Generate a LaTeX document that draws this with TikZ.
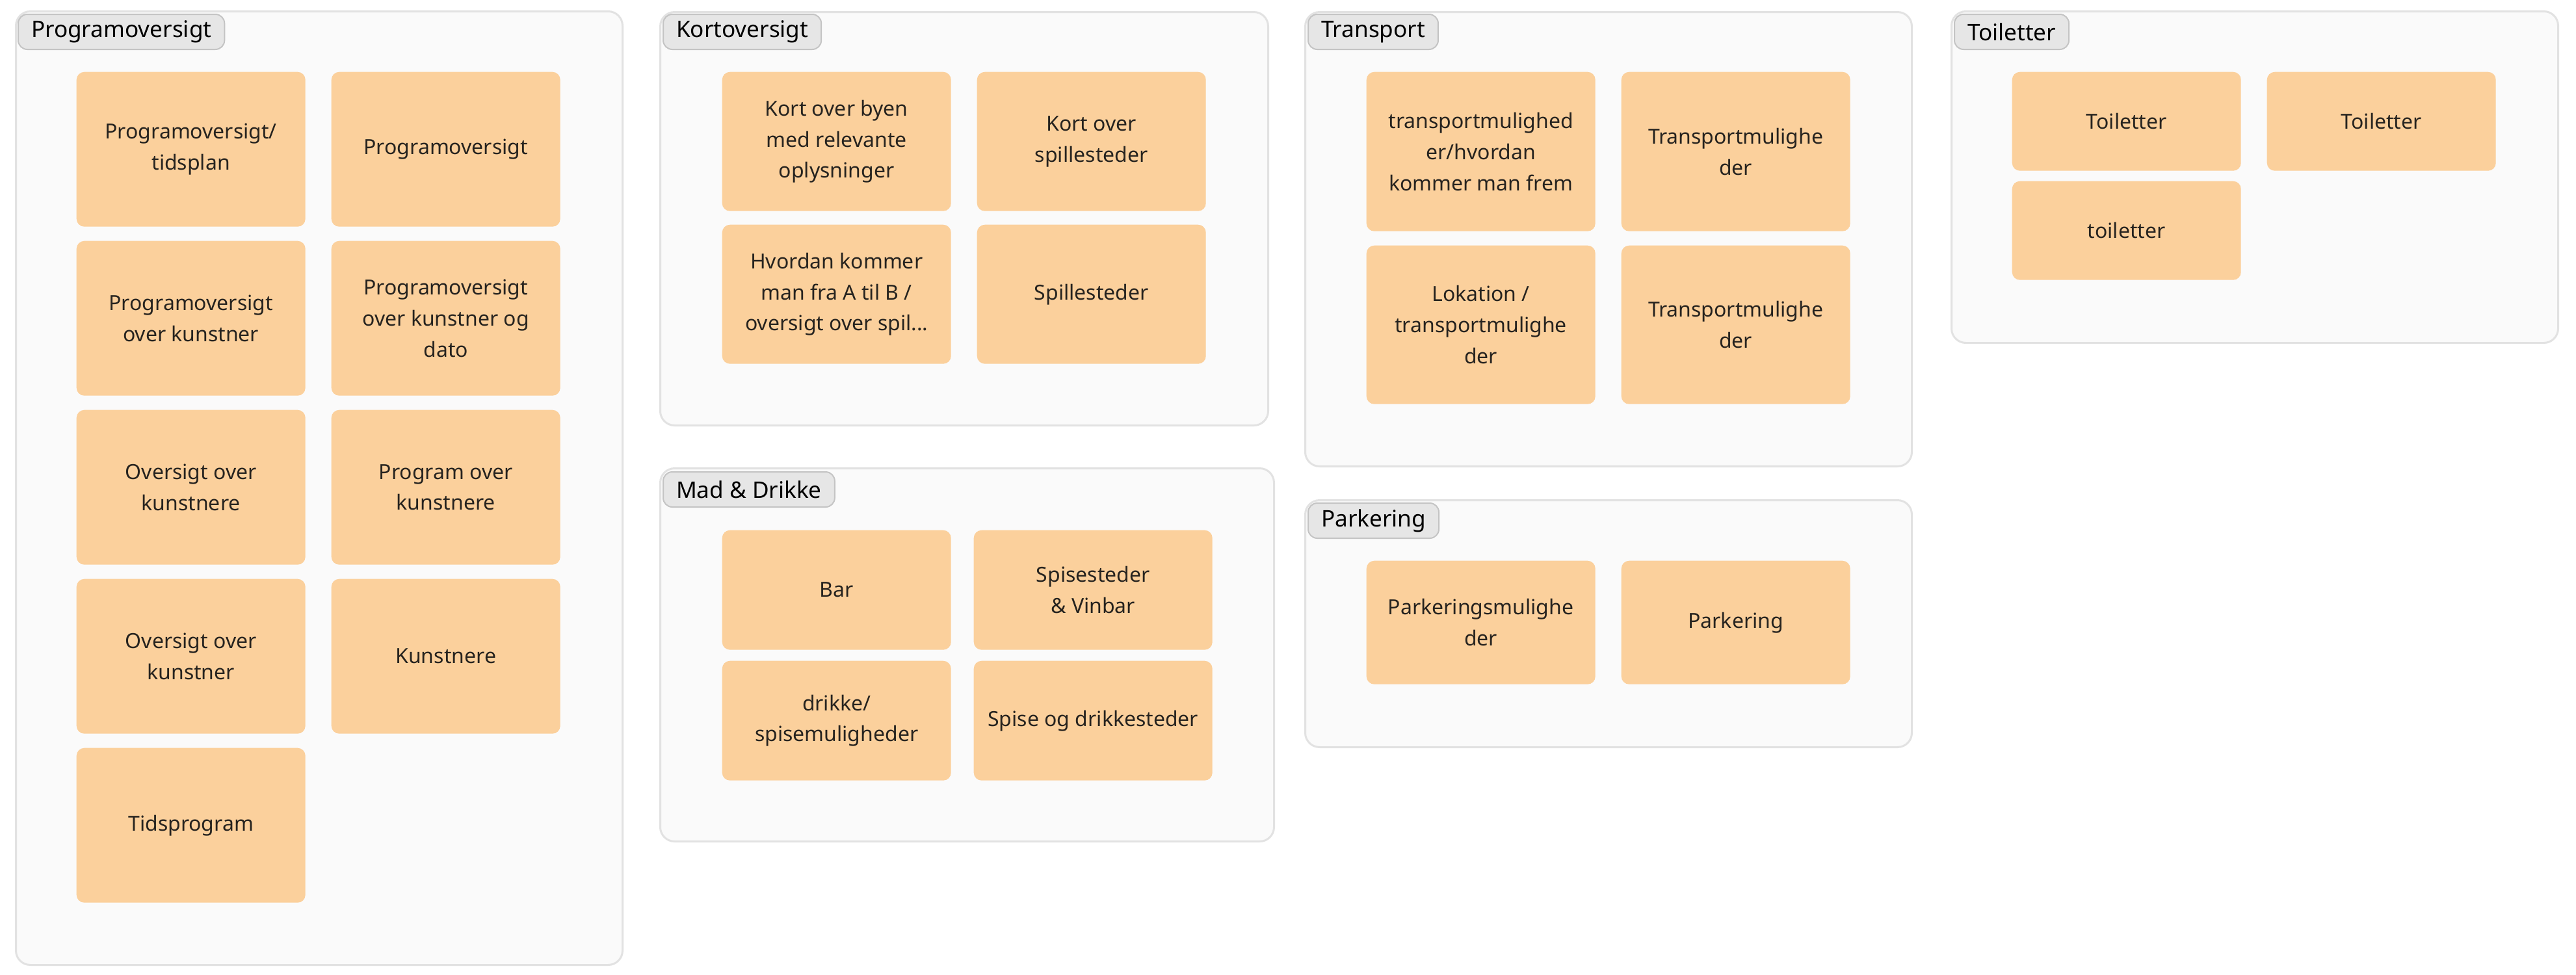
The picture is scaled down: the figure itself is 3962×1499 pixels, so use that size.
\documentclass[tikz,border=0pt]{standalone}
\usepackage{fontspec}
\setmainfont{Noto Sans}
\usepackage{tikz}
\definecolor{framefill}{HTML}{FAFAFA}
\definecolor{frameline}{HTML}{E2E2E2}
\definecolor{tabfill}{HTML}{E6E6E6}
\definecolor{tabline}{HTML}{C4C4C4}
\definecolor{cardfill}{HTML}{FBD09C}
\definecolor{cardtext}{HTML}{26231F}

\begin{document}
\begin{tikzpicture}[x=0.1mm, y=-0.1mm,
  frame/.style={draw=frameline, fill=framefill, line width=0.3mm, rounded corners=2.2mm,
    anchor=north west, inner sep=0pt, minimum width=93.3mm},
  tab/.style={draw=tabline, fill=tabfill, line width=0.2mm, rounded corners=1.4mm,
    anchor=north west, minimum height=5.4mm, inner xsep=2mm, inner ysep=0pt,
    text=black, font=\fontsize{10}{12}\selectfont},
  card/.style={fill=cardfill, rounded corners=1.2mm, anchor=north west,
    minimum width=35.2mm, align=center, inner sep=0pt, text=cardtext,
    font=\fontsize{9.1}{13.6}\selectfont}]
  \useasboundingbox (0,0) rectangle (3962,1499);

  % Programoversigt
  \node[frame, minimum height=146.7mm] (prog) at (23,16) {};
  \node[tab] (progtab) at (27,21) {Programoversigt};
  \node[card, minimum height=23.8mm] (prog1) at (117,110) {Programoversigt/\\tidsplan};
  \node[card, minimum height=23.8mm] (prog2) at (509,110) {Programoversigt};
  \node[card, minimum height=23.8mm] (prog3) at (117,370) {Programoversigt\\over kunstner};
  \node[card, minimum height=23.8mm] (prog4) at (509,370) {Programoversigt\\over kunstner og\\dato};
  \node[card, minimum height=23.8mm] (prog5) at (117,630) {Oversigt over\\kunstnere};
  \node[card, minimum height=23.8mm] (prog6) at (509,630) {Program over\\kunstnere};
  \node[card, minimum height=23.8mm] (prog7) at (117,890) {Oversigt over\\kunstner};
  \node[card, minimum height=23.8mm] (prog8) at (509,890) {Kunstnere};
  \node[card, minimum height=23.8mm] (prog9) at (117,1150) {Tidsprogram};

  % Kortoversigt
  \node[frame, minimum width=93.5mm, minimum height=63.6mm] (kort) at (1014,17) {};
  \node[tab] (korttab) at (1019,21) {Kortoversigt};
  \node[card, minimum height=21.4mm] (kort1) at (1110,110) {Kort over byen\\med relevante\\oplysninger};
  \node[card, minimum height=21.4mm] (kort2) at (1502,110) {Kort over\\spillesteder};
  \node[card, minimum height=21.4mm] (kort3) at (1110,345) {Hvordan kommer\\man fra A til B /\\oversigt over spil...};
  \node[card, minimum height=21.4mm] (kort4) at (1502,345) {Spillesteder};

  % Mad & Drikke
  \node[frame, minimum width=94.4mm, minimum height=57.4mm] (mad) at (1014,719) {};
  \node[tab] (madtab) at (1019,725) {Mad \& Drikke};
  \node[card, minimum height=18.4mm] (mad1) at (1110,815) {Bar};
  \node[card, minimum height=18.4mm, minimum width=36.7mm] (mad2) at (1497,815) {Spisesteder\\\& Vinbar};
  \node[card, minimum height=18.4mm] (mad3) at (1110,1016) {drikke/\\spisemuligheder};
  \node[card, minimum height=18.4mm, minimum width=36.7mm] (mad4) at (1497,1016) {Spise og drikkesteder};

  % Transport
  \node[frame, minimum height=69.9mm] (trans) at (2006,17) {};
  \node[tab] (transtab) at (2011,21) {Transport};
  \node[card, minimum height=24.5mm] (trans1) at (2101,110) {transportmulighed\\er/hvordan\\kommer man frem};
  \node[card, minimum height=24.5mm] (trans2) at (2493,110) {Transportmulighe\\der};
  \node[card, minimum height=24.4mm] (trans3) at (2101,377) {Lokation /\\transportmulighe\\der};
  \node[card, minimum height=24.4mm] (trans4) at (2493,377) {Transportmulighe\\der};

  % Parkering
  \node[frame, minimum height=38mm] (park) at (2006,768) {};
  \node[tab] (parktab) at (2011,773) {Parkering};
  \node[card, minimum height=19mm] (park1) at (2101,862) {Parkeringsmulighe\\der};
  \node[card, minimum height=19mm] (park2) at (2493,862) {Parkering};

  % Toiletter
  \node[frame, minimum height=51mm] (toil) at (3000,16) {};
  \node[tab] (toiltab) at (3005,21) {Toiletter};
  \node[card, minimum height=15.2mm] (toil1) at (3094,110) {Toiletter};
  \node[card, minimum height=15.2mm] (toil2) at (3486,110) {Toiletter};
  \node[card, minimum height=15.2mm] (toil3) at (3094,278) {toiletter};
\end{tikzpicture}
\end{document}
